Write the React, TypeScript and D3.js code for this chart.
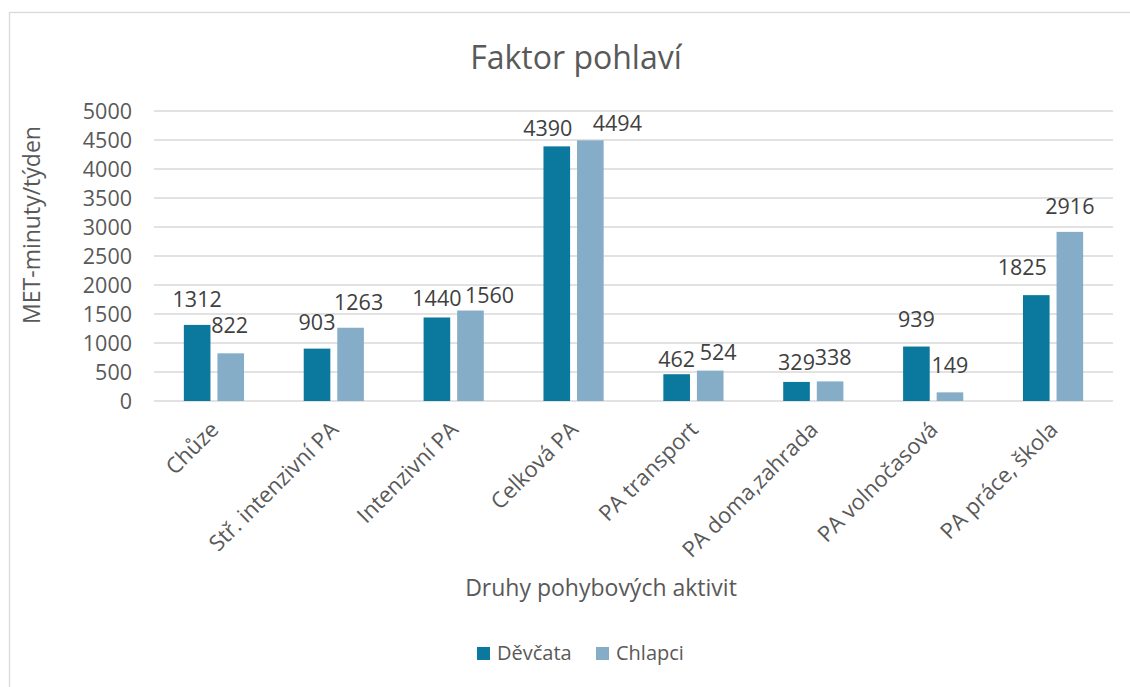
import React from "react";
import * as d3 from "d3";

const categories = [
  "Chůze",
  "Stř. intenzivní PA",
  "Intenzivní PA",
  "Celková PA",
  "PA transport",
  "PA doma,zahrada",
  "PA volnočasová",
  "PA práce, škola",
];
const girls = [1312, 903, 1440, 4390, 462, 329, 939, 1825];
const boys = [822, 1263, 1560, 4494, 524, 338, 149, 2916];
const seriesNames = ["Děvčata", "Chlapci"];
const yTicks = [0, 500, 1000, 1500, 2000, 2500, 3000, 3500, 4000, 4500, 5000];

// label placement nudges (dx from bar centre, gap above bar top) as in the reference
const girlLabelNudge: [number, number][] = [
  [0, 18], [0, 18.5], [0, 11], [-9, 10.5], [0, 7.5], [0, 12], [0, 20], [-14, 20],
];
const boyLabelNudge: [number, number][] = [
  [-1, 20], [8, 17.5], [19, 8], [27, 9.5], [8, 10.5], [3, 16], [0, 19.5], [0, 18],
];

const COLORS = ["#0B799D", "#86ADC8"];
const FONT = "'Open Sans', 'Noto Sans', sans-serif";

export default function App() {
  const W = 1130;
  const H = 687;
  const left = 154;
  const right = 1113;
  const top = 111;
  const bottom = 401;

  const x = d3.scaleBand<string>().domain(categories).range([left, right]).padding(0);
  const y = d3.scaleLinear().domain([0, 5000]).range([bottom, top]);
  const band = x.bandwidth();
  const barW = band * 0.222;
  const gap = band * 0.058;
  const series = [girls, boys];
  const nudges = [girlLabelNudge, boyLabelNudge];

  return (
    <svg width={W} height={H} style={{ position: "absolute", left: 0, top: 0, background: "#fff" }} fontFamily={FONT}>
      <rect x={0} y={0} width={W} height={H} fill="#fff" />
      <rect x={9.5} y={12.5} width={W + 20} height={H + 20} fill="none" stroke="#D9D9D9" strokeWidth={1.3} />
      <text x={576} y={69} textAnchor="middle" fontSize={32} fill="#595959">
        Faktor pohlaví
      </text>
      {yTicks.map((t) => (
        <g key={t}>
          <line x1={left} x2={right} y1={y(t)} y2={y(t)} stroke="#D9D9D9" strokeWidth={1.4} />
          <text x={132} y={y(t)} dy="0.36em" textAnchor="end" fontSize={21.5} fill="#595959">
            {t}
          </text>
        </g>
      ))}
      {categories.map((c, i) => {
        const cx = (x(c) as number) + band / 2;
        return (
          <g key={c}>
            {series.map((s, k) => {
              const bx = k === 0 ? cx - gap / 2 - barW : cx + gap / 2;
              const v = s[i];
              const [ndx, ngap] = nudges[k][i];
              return (
                <g key={k}>
                  <rect x={bx} y={y(v)} width={barW} height={bottom - y(v)} fill={COLORS[k]} />
                  <text x={bx + barW / 2 + ndx} y={y(v) - ngap} textAnchor="middle" fontSize={21.5} fill="#404040">
                    {v}
                  </text>
                </g>
              );
            })}
            <text
              transform={`translate(${cx + 6},${bottom + 30}) rotate(-45)`}
              textAnchor="end"
              fontSize={22}
              fill="#595959"
            >
              {c}
            </text>
          </g>
        );
      })}
      <text transform={`translate(40,225) rotate(-90)`} textAnchor="middle" fontSize={23} fill="#595959">
        MET-minuty/týden
      </text>
      <text x={601} y={596} textAnchor="middle" fontSize={23} fill="#595959">
        Druhy pohybových aktivit
      </text>
      {seriesNames.map((n, k) => {
        const lx = k === 0 ? 477 : 596;
        return (
          <g key={n}>
            <rect x={lx} y={647} width={13} height={13} fill={COLORS[k]} />
            <text x={lx + 20} y={660} fontSize={20} fill="#595959">
              {n}
            </text>
          </g>
        );
      })}
    </svg>
  );
}
